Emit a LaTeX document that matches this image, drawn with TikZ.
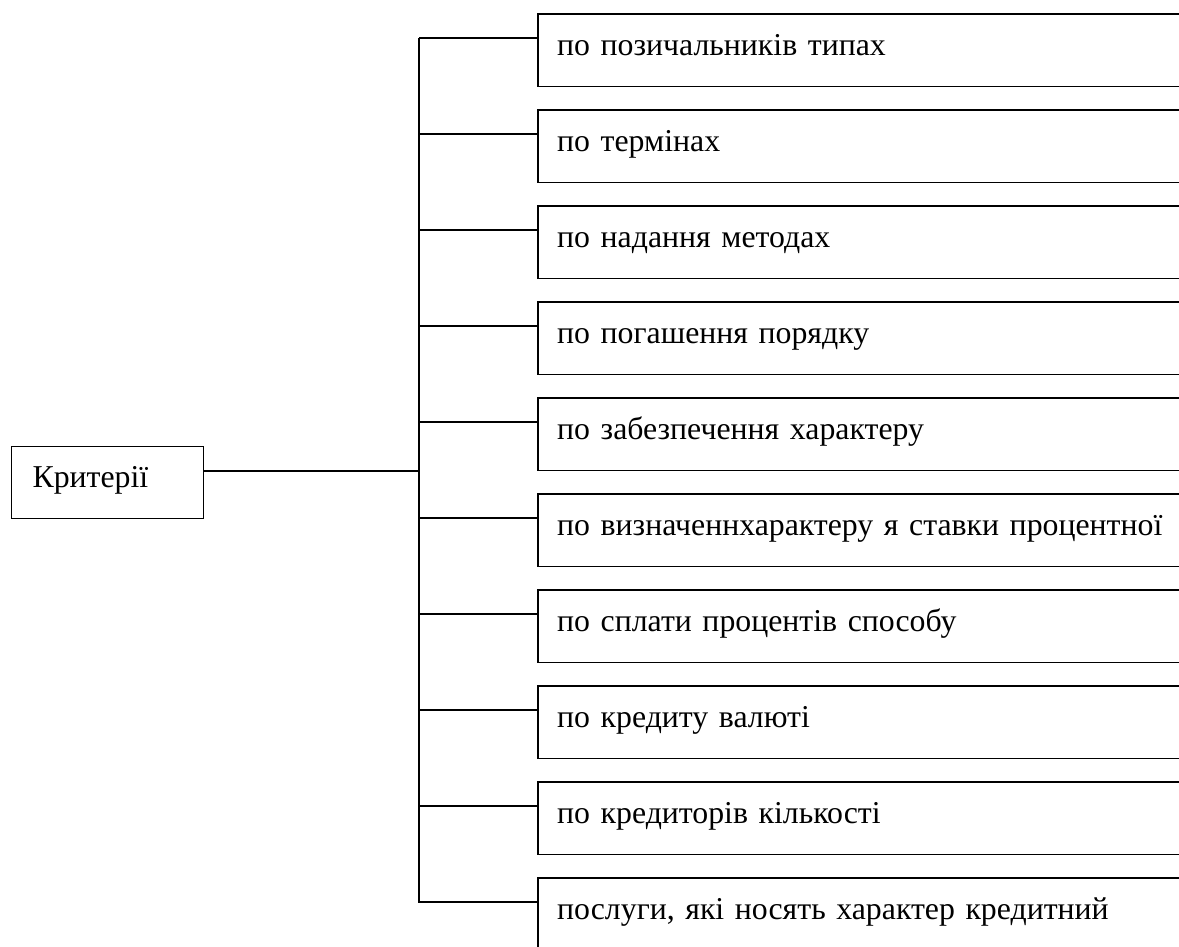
\documentclass[tikz,border=0pt]{standalone}
\usepackage{fontspec}
\setmainfont{Liberation Serif}
\usepackage{tikz}
\usetikzlibrary{calc}

\begin{document}
\begin{tikzpicture}[x=1pt, y=1pt, node distance=96pt,
    box/.style={rectangle, anchor=north west,
        minimum height=72pt, text width=700pt, align=left,
        text height=22pt, text depth=12pt,
        inner xsep=19pt, inner ysep=0pt, font=\fontsize{31.8}{36}\selectfont},
    link/.style={line width=1.1pt}]
            \useasboundingbox (0,0) rectangle (1179,-947);
            \coordinate (edge) at (1179,0);
            % Nodes
            \node[box, draw, line width=1.1pt, text width=150pt, inner xsep=21pt] (crit) at (11,-446) {Критерії};
            \node[box] (b1) at (538,-14) {по позичальників типах};
            \node[box, below of=b1] (b2) {по термінах};
            \node[box, below of=b2] (b3) {по надання методах};
            \node[box, below of=b3] (b4) {по погашення порядку};
            \node[box, below of=b4] (b5) {по забезпечення характеру};
            \node[box, below of=b5] (b6) {по визначеннхарактеру я ставки процентної};
            \node[box, below of=b6] (b7) {по сплати процентів способу};
            \node[box, below of=b7] (b8) {по кредиту валюті};
            \node[box, below of=b8] (b9) {по кредиторів кількості};
            \node[box, below of=b9] (b10) {послуги, які носять характер кредитний};
            % Boxes run off the right edge
            \foreach \b in {b1,b2,b3,b4,b5,b6,b7,b8,b9}
                \draw[link] (\b.north west -| edge) -- (\b.north west) -- (\b.south west) -- (\b.south west -| edge);
            \draw[link] (b10.north west -| edge) -- (b10.north west) -- (b10.south west);
            % Lines
            \coordinate (hub) at (419,-471);
            \draw[link] ($(crit.north east)+(0,-25)$) -- (hub);
            \draw[link] ($(b1.north west)+(-119,-24)$) -- ($(b10.north west)+(-119,-25)$);
            \foreach \b in {b1,b2,b3,b4,b5,b6,b7,b8,b9,b10}
                \draw[link] ($(\b.north west)+(-119,-24)$) -- ($(\b.north west)+(0,-24)$);
        \end{tikzpicture}
\end{document}
